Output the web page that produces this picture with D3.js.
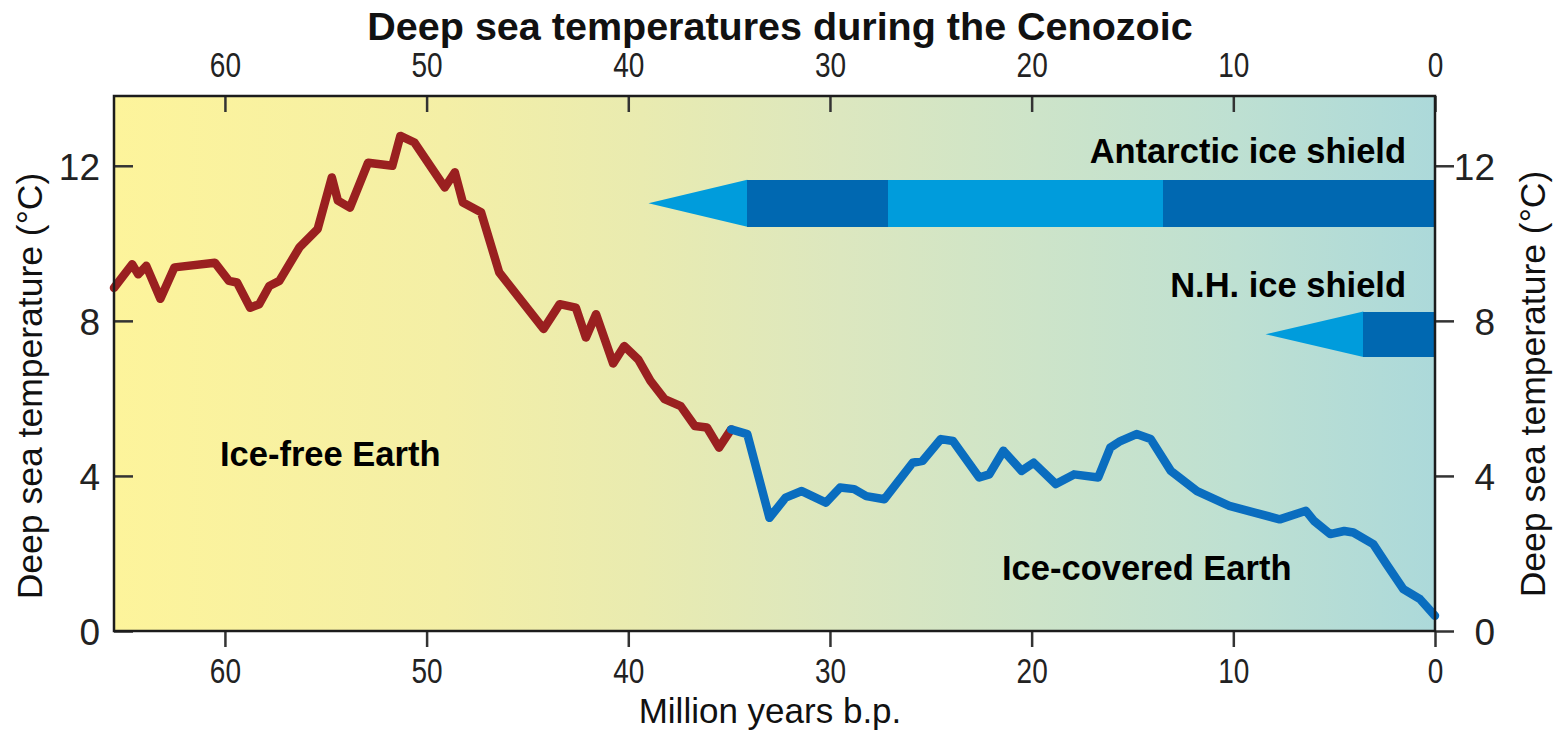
<!DOCTYPE html>
<html>
<head>
<meta charset="utf-8">
<script src="https://cdn.jsdelivr.net/npm/d3@7"></script>
<style>
  body { margin: 0; background: #fff; }
  text { font-family: "Liberation Sans", Arial, sans-serif; fill: #111; }
  .tickX { font-size: 35px; fill: #222; }
  .tickY { font-size: 37px; fill: #222; }
  .note { font-weight: bold; font-size: 34.5px; fill: #000; }
</style>
</head>
<body>
<div id="chart"></div>
<script>
// million years before present / deep sea temperature (°C)
var warmAge  = [65.5, 64.6, 64.3, 63.9, 63.2, 62.5, 60.5, 59.8, 59.4, 58.75, 58.3, 57.8, 57.3, 56.3, 55.4, 54.7,
  54.4, 53.8, 52.9, 51.7, 51.3, 50.6, 49.1, 48.6, 48.2, 47.3, 46.4, 44.2, 43.4, 42.6, 42.1, 41.6,
  40.75, 40.2, 39.5, 38.9, 38.2, 37.4, 36.7, 36.1, 35.5, 34.9];
var warmTemp = [8.85, 9.46, 9.2, 9.42, 8.57, 9.38, 9.5, 9.03, 8.99, 8.34, 8.43, 8.9, 9.03, 9.9, 10.37, 11.7,
  11.1, 10.92, 12.08, 12.0, 12.77, 12.6, 11.44, 11.83, 11.05, 10.8, 9.25, 7.79, 8.43, 8.34, 7.57, 8.17,
  6.9, 7.35, 7.0, 6.45, 5.98, 5.8, 5.29, 5.25, 4.73, 5.2];

var coldAge  = [34.9, 34.1, 33.0, 32.2, 31.4, 30.2, 29.5, 28.8, 28.2, 27.3, 25.9, 25.4, 24.5, 23.9, 22.6, 22.1,
  21.4, 20.5, 19.9, 18.8, 17.9, 16.7, 16.1, 15.6, 14.8, 14.1, 13.1, 11.8, 10.2, 7.7, 6.4, 6.0,
  5.2, 4.5, 4.05, 3.06, 2.4, 1.57, 0.74, 0];
var coldTemp = [5.2, 5.08, 2.92, 3.44, 3.61, 3.31, 3.7, 3.66, 3.48, 3.4, 4.34, 4.39, 4.95, 4.9, 3.96, 4.04,
  4.65, 4.13, 4.34, 3.79, 4.04, 3.96, 4.73, 4.9, 5.08, 4.95, 4.13, 3.61, 3.23, 2.88, 3.1, 2.84,
  2.5, 2.58, 2.54, 2.24, 1.72, 1.08, 0.82, 0.39];

// ice shields: [start, end] in My, kind = partial (light) or full (dark)
var antarcticTip = 39.0;
var antarcticSegs = [[34.1, 27.1, "full"], [27.1, 13.5, "partial"], [13.5, 0, "full"]];
var antarcticBand = [10.43, 11.64];
var nhTip = 8.4;
var nhSegs = [[3.55, 0, "full"]];
var nhBand = [7.07, 8.24];

var xTicks = [60, 50, 40, 30, 20, 10, 0];
var yTicks = [0, 4, 8, 12];

var svgWidth = 1559, svgHeight = 738;
var plot = { left: 114, right: 1435, top: 96, bottom: 631 };

var svg = d3.select("#chart").append("svg")
  .attr("width", svgWidth)
  .attr("height", svgHeight);

var x = d3.scaleLinear().domain([65.5, 0]).range([plot.left, plot.right]);
var y = d3.scaleLinear().domain([0, 13.8]).range([plot.bottom, plot.top]);

// background gradient yellow -> teal
var grad = svg.append("defs").append("linearGradient")
  .attr("id", "bg").attr("x1", "0%").attr("x2", "100%").attr("y1", "0%").attr("y2", "0%");
[["0%", "#fdf49b"], ["25%", "#f4efa6"], ["40%", "#e9ebb0"], ["55%", "#dce7bf"], ["70%", "#cde4c9"], ["85%", "#bee0d2"], ["100%", "#acd9da"]]
  .forEach(function (s) { grad.append("stop").attr("offset", s[0]).attr("stop-color", s[1]); });

svg.append("rect")
  .attr("x", plot.left).attr("y", plot.top)
  .attr("width", plot.right - plot.left).attr("height", plot.bottom - plot.top)
  .attr("fill", "url(#bg)");

// ice shield bars
var light = "#009cdc", dark = "#0068b1";
function drawShield(tip, segs, band) {
  var first = segs[0][0];
  // light arrow head from tip to start of first segment
  svg.append("path")
    .attr("d", "M" + x(tip) + "," + y((band[0] + band[1]) / 2) +
      "L" + x(first) + "," + y(band[1]) + "L" + x(first) + "," + y(band[0]) + "Z")
    .attr("fill", light);
  svg.selectAll(null).data(segs).enter().append("rect")
    .attr("x", d => x(d[0]))
    .attr("width", d => x(d[1]) - x(d[0]))
    .attr("y", y(band[1]))
    .attr("height", y(band[0]) - y(band[1]))
    .attr("fill", d => d[2] === "full" ? dark : light)
    .attr("shape-rendering", "crispEdges");
}
drawShield(antarcticTip, antarcticSegs, antarcticBand);
drawShield(nhTip, nhSegs, nhBand);

// temperature curve
var line = d3.line().x(d => x(d[0])).y(d => y(d[1]));
svg.append("path")
  .datum(d3.zip(warmAge, warmTemp))
  .attr("d", line)
  .attr("fill", "none").attr("stroke", "#9a2020").attr("stroke-width", 8.5)
  .attr("stroke-linejoin", "round").attr("stroke-linecap", "round");
svg.append("path")
  .datum(d3.zip(coldAge, coldTemp))
  .attr("d", line)
  .attr("fill", "none").attr("stroke", "#0a6dbf").attr("stroke-width", 8.5)
  .attr("stroke-linejoin", "round").attr("stroke-linecap", "round");

// axes
var topAxis = d3.axisTop(x).tickValues(xTicks).tickSize(-16).tickFormat(d3.format("d"));
var bottomAxis = d3.axisBottom(x).tickValues(xTicks).tickSize(16).tickFormat(d3.format("d"));
var leftAxis = d3.axisLeft(y).tickValues(yTicks).tickSize(-19);
var rightAxis = d3.axisRight(y).tickValues(yTicks).tickSize(19);

function styleAxis(g) {
  g.select(".domain").remove();
  g.selectAll(".tick line").attr("stroke", "#333").attr("stroke-width", 2.5);
}

var gTop = svg.append("g").attr("transform", `translate(0, ${plot.top})`).call(topAxis).call(styleAxis);
gTop.selectAll(".tick text").attr("class", "tickX").attr("y", 0).attr("dy", 0)
  .attr("transform", "translate(0,-19) scale(0.8,1)");

var gBottom = svg.append("g").attr("transform", `translate(0, ${plot.bottom})`).call(bottomAxis).call(styleAxis);
gBottom.selectAll(".tick text").attr("class", "tickX").attr("y", 0).attr("dy", 0)
  .attr("transform", "translate(0,52) scale(0.8,1)");

var gLeft = svg.append("g").attr("transform", `translate(${plot.left}, 0)`).call(leftAxis).call(styleAxis);
gLeft.selectAll(".tick text").attr("class", "tickY").attr("x", -14).attr("dy", "0.36em");

var gRight = svg.append("g").attr("transform", `translate(${plot.right}, 0)`).call(rightAxis).call(styleAxis);
gRight.selectAll(".tick text").attr("class", "tickY").attr("x", 60).attr("dy", "0.36em")
  .attr("text-anchor", "end");

svg.selectAll(".tick text").attr("font-family", null).attr("font-size", null).attr("fill", null);

// frame
svg.append("rect")
  .attr("x", plot.left).attr("y", plot.top)
  .attr("width", plot.right - plot.left).attr("height", plot.bottom - plot.top)
  .attr("fill", "none").attr("stroke", "#1c1c1c").attr("stroke-width", 2.5);

// labels
svg.append("text")
  .attr("x", 780).attr("y", 40)
  .attr("text-anchor", "middle")
  .style("font-weight", "bold").style("font-size", "39.5px")
  .text("Deep sea temperatures during the Cenozoic");

svg.append("text")
  .attr("x", 770).attr("y", 723)
  .attr("text-anchor", "middle")
  .style("font-size", "35px")
  .text("Million years b.p.");

svg.append("text")
  .attr("transform", "translate(42, 386) rotate(-90)")
  .attr("text-anchor", "middle")
  .style("font-size", "35.5px")
  .text("Deep sea temperature (°C)");

svg.append("text")
  .attr("transform", "translate(1545, 384) rotate(-90)")
  .attr("text-anchor", "middle")
  .style("font-size", "35.5px")
  .text("Deep sea temperature (°C)");

svg.append("text").attr("class", "note").attr("x", 220).attr("y", 466).text("Ice-free Earth");
svg.append("text").attr("class", "note").attr("x", 1002).attr("y", 580).text("Ice-covered Earth");
svg.append("text").attr("class", "note").attr("x", 1406).attr("y", 163).attr("text-anchor", "end").text("Antarctic ice shield");
svg.append("text").attr("class", "note").attr("x", 1406).attr("y", 297).attr("text-anchor", "end").text("N.H. ice shield");
</script>
</body>
</html>
